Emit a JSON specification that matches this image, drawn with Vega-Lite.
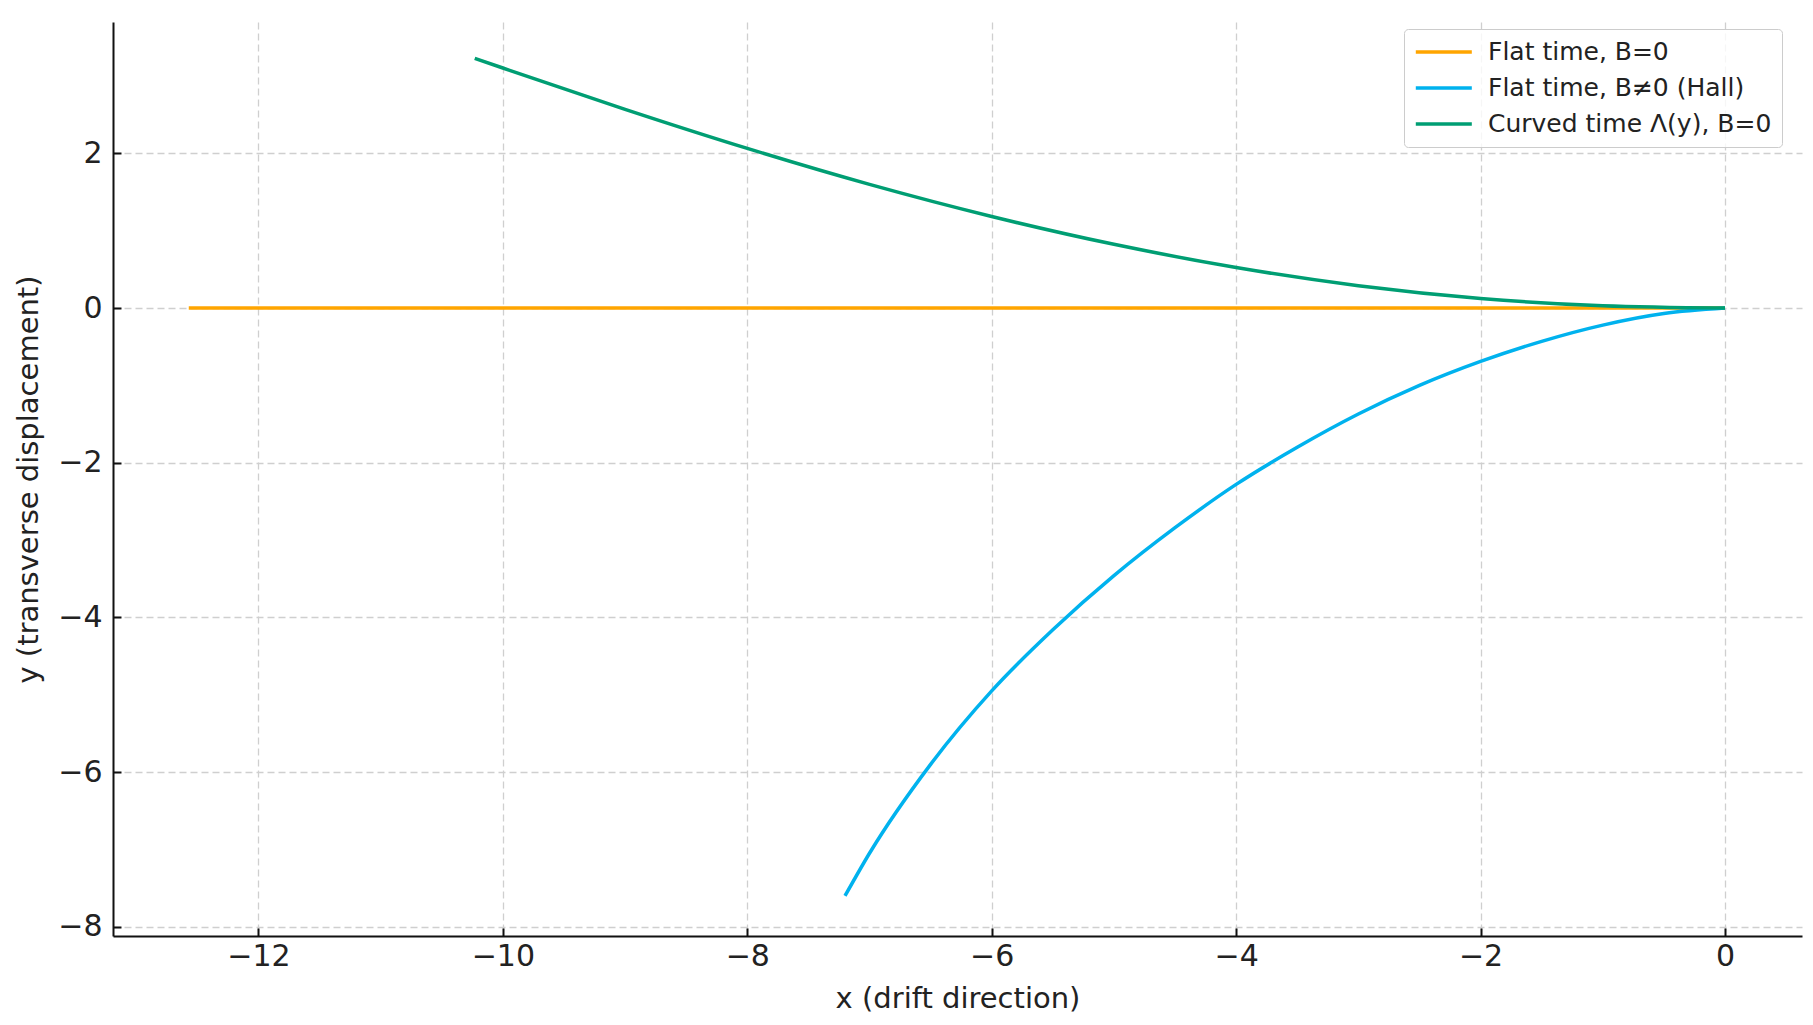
{
  "$schema": "https://vega.github.io/schema/vega-lite/v6.json",
  "width": 1689,
  "height": 914,
  "autosize": "none",
  "padding": {"left": 113, "top": 22, "right": 11, "bottom": 89},
  "background": "white",
  "data": {
    "values": [
      {"series": "Flat time, B=0", "x": -12.57, "y": 0},
      {"series": "Flat time, B=0", "x": -6.0, "y": 0},
      {"series": "Flat time, B=0", "x": 0.0, "y": 0},

      {"series": "Flat time, B≠0 (Hall)", "x": -7.2, "y": -7.6},
      {"series": "Flat time, B≠0 (Hall)", "x": -7.0, "y": -7.05},
      {"series": "Flat time, B≠0 (Hall)", "x": -6.5, "y": -5.9},
      {"series": "Flat time, B≠0 (Hall)", "x": -6.0, "y": -4.95},
      {"series": "Flat time, B≠0 (Hall)", "x": -5.5, "y": -4.16},
      {"series": "Flat time, B≠0 (Hall)", "x": -5.0, "y": -3.46},
      {"series": "Flat time, B≠0 (Hall)", "x": -4.5, "y": -2.84},
      {"series": "Flat time, B≠0 (Hall)", "x": -4.0, "y": -2.28},
      {"series": "Flat time, B≠0 (Hall)", "x": -3.5, "y": -1.8},
      {"series": "Flat time, B≠0 (Hall)", "x": -3.0, "y": -1.37},
      {"series": "Flat time, B≠0 (Hall)", "x": -2.5, "y": -1.0},
      {"series": "Flat time, B≠0 (Hall)", "x": -2.0, "y": -0.69},
      {"series": "Flat time, B≠0 (Hall)", "x": -1.5, "y": -0.43},
      {"series": "Flat time, B≠0 (Hall)", "x": -1.0, "y": -0.22},
      {"series": "Flat time, B≠0 (Hall)", "x": -0.5, "y": -0.07},
      {"series": "Flat time, B≠0 (Hall)", "x": 0.0, "y": 0.0},

      {"series": "Curved time Λ(y), B=0", "x": -10.23, "y": 3.23},
      {"series": "Curved time Λ(y), B=0", "x": -10.0, "y": 3.105},
      {"series": "Curved time Λ(y), B=0", "x": -9.0, "y": 2.57},
      {"series": "Curved time Λ(y), B=0", "x": -8.0, "y": 2.065},
      {"series": "Curved time Λ(y), B=0", "x": -7.0, "y": 1.6},
      {"series": "Curved time Λ(y), B=0", "x": -6.0, "y": 1.185},
      {"series": "Curved time Λ(y), B=0", "x": -5.0, "y": 0.825},
      {"series": "Curved time Λ(y), B=0", "x": -4.0, "y": 0.525},
      {"series": "Curved time Λ(y), B=0", "x": -3.0, "y": 0.29},
      {"series": "Curved time Λ(y), B=0", "x": -2.0, "y": 0.125},
      {"series": "Curved time Λ(y), B=0", "x": -1.0, "y": 0.03},
      {"series": "Curved time Λ(y), B=0", "x": 0.0, "y": 0.0}
    ]
  },
  "mark": {"type": "line", "strokeWidth": 3.5, "clip": true, "interpolate": "monotone"},
  "encoding": {
    "x": {
      "field": "x",
      "type": "quantitative",
      "title": "x (drift direction)",
      "scale": {"domain": [-13.19, 0.63], "nice": false, "zero": false},
      "axis": {"values": [-12, -10, -8, -6, -4, -2, 0], "titlePadding": 13, "labelPadding": 13}
    },
    "y": {
      "field": "y",
      "type": "quantitative",
      "title": "y (transverse displacement)",
      "scale": {"domain": [-8.12, 3.7], "nice": false, "zero": false},
      "axis": {"values": [-8, -6, -4, -2, 0, 2], "titlePadding": 14, "labelPadding": 19}
    },
    "color": {
      "field": "series",
      "type": "nominal",
      "scale": {
        "domain": ["Flat time, B=0", "Flat time, B≠0 (Hall)", "Curved time Λ(y), B=0"],
        "range": ["#FFA500", "#00B2EE", "#009E73"]
      },
      "legend": {
        "title": null,
        "orient": "none",
        "legendX": 1291,
        "legendY": 7,
        "symbolType": "M-1,0H4",
        "symbolSize": 502,
        "symbolStrokeWidth": 3.5,
        "labelOffset": 48,
        "labelFontSize": 25,
        "labelFont": "DejaVu Sans",
        "labelColor": "#222222",
        "labelLimit": 0,
        "rowPadding": 10,
        "padding": 10,
        "fillColor": "rgba(255,255,255,0.8)",
        "strokeColor": "#cccccc",
        "cornerRadius": 4
      }
    }
  },
  "config": {
    "font": "DejaVu Sans",
    "view": {"stroke": null},
    "axis": {
      "labelFont": "DejaVu Sans",
      "labelFontSize": 30,
      "labelColor": "#222222",
      "titleFont": "DejaVu Sans",
      "titleFontSize": 29,
      "titleFontWeight": "normal",
      "titleColor": "#222222",
      "domainColor": "#111111",
      "domainWidth": 2,
      "tickColor": "#111111",
      "tickWidth": 2,
      "tickSize": -8,
      "grid": true,
      "gridColor": "#cfcfcf",
      "gridDash": [7, 4],
      "gridWidth": 1.3,
      "labelFlush": false,
      "labelOverlap": false
    }
  }
}
